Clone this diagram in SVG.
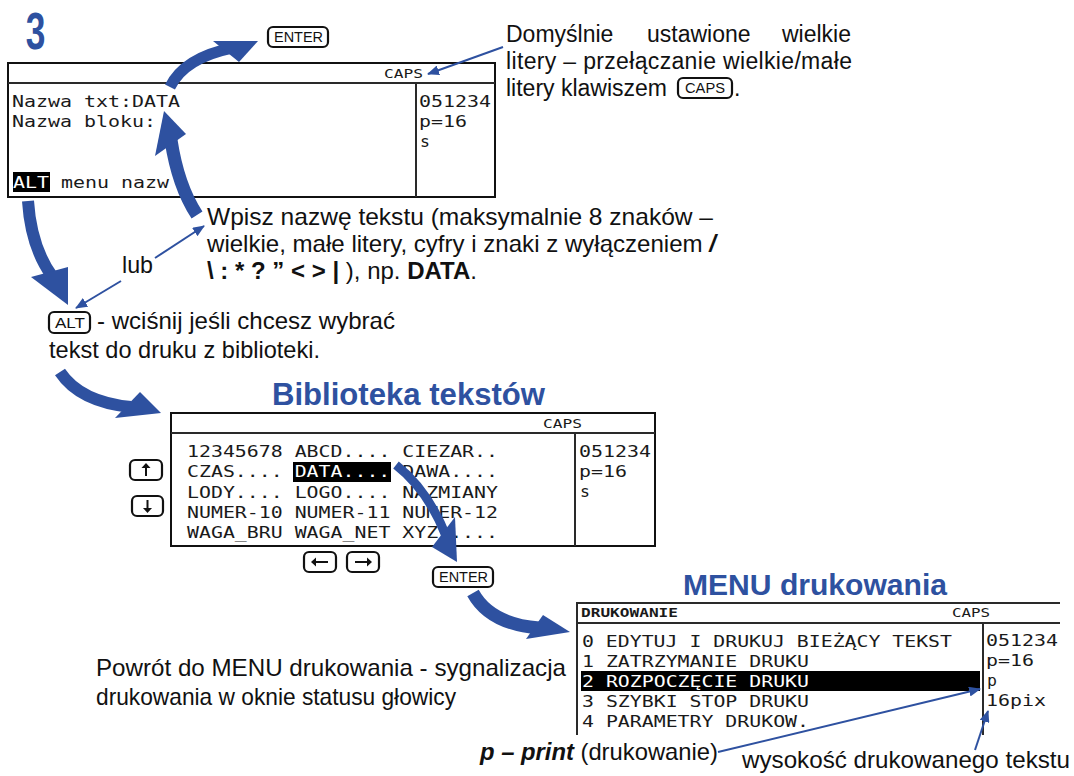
<svg xmlns="http://www.w3.org/2000/svg" width="1074" height="776" viewBox="0 0 1074 776">
<defs>
<style>
.lcd{font-family:"DejaVu Sans Mono","Liberation Mono",monospace;font-size:16.5px;fill:#1a1a1a}
.lcds{font-family:"DejaVu Sans Mono","Liberation Mono",monospace;font-size:13px;fill:#1a1a1a}
.frame{fill:#fff;stroke:#111;stroke-width:2}
.rule{stroke:#2a2a2a;stroke-width:2;fill:none}
.inv{fill:#000}
.txt{font-family:"Liberation Sans",Arial,sans-serif;font-size:23px;fill:#111}
.nar{font-family:"Liberation Sans Narrow","Arial Narrow","Liberation Sans",sans-serif;font-size:24px;fill:#111}
.key rect{fill:#fff;stroke:#111;stroke-width:2.2}
.key path{fill:none;stroke:#111;stroke-width:2}
.key polygon{fill:#111}
.keyt{font-family:"Liberation Sans",Arial,sans-serif;font-size:14px;fill:#111}
.head{font-family:"Liberation Sans",Arial,sans-serif;font-weight:bold;fill:#2e51a0}
.big{fill:none;stroke:#2e51a0}
.tip{fill:#2e51a0}
.thin{fill:none;stroke:#2e51a0;stroke-width:2;marker-end:url(#ah)}
</style>
<marker id="ah" markerUnits="userSpaceOnUse" markerWidth="12" markerHeight="10" refX="11" refY="5" orient="auto">
<path d="M0,0 L12,5 L0,10 z" fill="#2e51a0"/>
</marker>
</defs>

<!-- step number -->
<text id="step" class="head" transform="scale(0.68,1)" x="38" y="49" font-size="52">3</text>

<!-- name entry screen -->
<g id="screen-name">
<rect class="frame" x="8" y="63" width="487" height="134"/>
<line class="rule" x1="8" y1="83" x2="495" y2="83"/>
<line class="rule" x1="416" y1="83" x2="416" y2="197"/>
<text class="lcds" x="384" y="78" textLength="39" lengthAdjust="spacingAndGlyphs">CAPS</text>
<text class="lcd" x="12" y="107" textLength="168" lengthAdjust="spacingAndGlyphs">Nazwa txt:DATA</text>
<text class="lcd" x="12" y="127" textLength="144" lengthAdjust="spacingAndGlyphs">Nazwa bloku:</text>
<rect class="inv" x="13" y="172" width="37" height="20"/>
<text class="lcd" x="13" y="188" textLength="156" lengthAdjust="spacingAndGlyphs"><tspan fill="#fff">ALT</tspan> menu nazw</text>
<text class="lcd" x="419" y="107" textLength="72" lengthAdjust="spacingAndGlyphs">051234</text>
<text class="lcd" x="419" y="127" textLength="48" lengthAdjust="spacingAndGlyphs">p=16</text>
<text class="lcd" x="420" y="147">s</text>
</g>

<!-- text library screen -->
<g id="screen-library">
<text class="head" x="272" y="405" font-size="32" textLength="273" lengthAdjust="spacingAndGlyphs">Biblioteka tekstów</text>
<rect class="frame" x="171" y="413" width="484" height="133"/>
<line class="rule" x1="171" y1="433" x2="655" y2="433"/>
<line class="rule" x1="575" y1="433" x2="575" y2="546"/>
<text class="lcds" x="543" y="428" textLength="39" lengthAdjust="spacingAndGlyphs">CAPS</text>
<text class="lcd" x="187" y="457" textLength="311" lengthAdjust="spacingAndGlyphs">12345678 ABCD.... CIEZAR..</text>
<rect class="inv" x="293" y="462" width="98" height="20"/>
<text class="lcd" x="187" y="477" textLength="311" lengthAdjust="spacingAndGlyphs">CZAS.... <tspan fill="#fff">DATA....</tspan> DAWA....</text>
<text class="lcd" x="187" y="498" textLength="311" lengthAdjust="spacingAndGlyphs">LODY.... LOGO.... NAZMIANY</text>
<text class="lcd" x="187" y="518" textLength="311" lengthAdjust="spacingAndGlyphs">NUMER-10 NUMER-11 NUMER-12</text>
<text class="lcd" x="187" y="538" textLength="311" lengthAdjust="spacingAndGlyphs">WAGA_BRU WAGA_NET XYZ.....</text>
<text class="lcd" x="579" y="457" textLength="72" lengthAdjust="spacingAndGlyphs">051234</text>
<text class="lcd" x="579" y="477" textLength="48" lengthAdjust="spacingAndGlyphs">p=16</text>
<text class="lcd" x="580" y="497">s</text>
</g>

<!-- print menu screen -->
<g id="screen-print">
<text class="head" x="683" y="595" font-size="29" textLength="264" lengthAdjust="spacingAndGlyphs">MENU drukowania</text>
<path class="rule" d="M577,603 H1060 M577,623 H1060 M577,602 V735 M983,623 V735"/>
<text class="lcds" font-weight="bold" x="581" y="617" textLength="97" lengthAdjust="spacingAndGlyphs">DRUKOWANIE</text>
<text class="lcds" x="952" y="617" textLength="38" lengthAdjust="spacingAndGlyphs">CAPS</text>
<text class="lcd" x="582" y="647" textLength="370" lengthAdjust="spacingAndGlyphs">0 EDYTUJ I DRUKUJ BIEŻĄCY TEKST</text>
<text class="lcd" x="582" y="667" textLength="227" lengthAdjust="spacingAndGlyphs">1 ZATRZYMANIE DRUKU</text>
<rect class="inv" x="581" y="671" width="399" height="20"/>
<text class="lcd" x="582" y="687" style="fill:#fff" textLength="227" lengthAdjust="spacingAndGlyphs">2 ROZPOCZĘCIE DRUKU</text>
<text class="lcd" x="582" y="707" textLength="227" lengthAdjust="spacingAndGlyphs">3 SZYBKI STOP DRUKU</text>
<text class="lcd" x="582" y="727" textLength="227" lengthAdjust="spacingAndGlyphs">4 PARAMETRY DRUKOW.</text>
<text class="lcd" x="986" y="646" textLength="72" lengthAdjust="spacingAndGlyphs">051234</text>
<text class="lcd" x="986" y="666" textLength="48" lengthAdjust="spacingAndGlyphs">p=16</text>
<text class="lcd" x="987" y="686">p</text>
<text class="lcd" x="986" y="706" textLength="60" lengthAdjust="spacingAndGlyphs">16pix</text>
</g>

<!-- keys -->
<g id="key-enter-top" class="key">
<rect x="268" y="27" width="60" height="20" rx="5"/>
<text class="keyt" x="274" y="42" textLength="49" lengthAdjust="spacingAndGlyphs">ENTER</text>
</g>
<g id="key-enter-library" class="key">
<rect x="433" y="567" width="60" height="20" rx="5"/>
<text class="keyt" x="439" y="582" textLength="49" lengthAdjust="spacingAndGlyphs">ENTER</text>
</g>
<g id="key-up" class="key">
<rect x="130" y="460" width="32" height="20" rx="5"/>
<path d="M146,476 V467"/><polygon points="141.5,468 146,463 150.5,468"/>
</g>
<g id="key-down" class="key">
<rect x="132" y="496" width="31" height="20" rx="5"/>
<path d="M147.5,500 V509"/><polygon points="143,508 147.5,513 152,508"/>
</g>
<g id="key-left" class="key">
<rect x="304" y="552" width="32" height="20" rx="5"/>
<path d="M328,562 H315"/><polygon points="316,557.5 311,562 316,566.5"/>
</g>
<g id="key-right" class="key">
<rect x="347" y="552" width="32" height="20" rx="5"/>
<path d="M355,562 H368"/><polygon points="367,557.5 372,562 367,566.5"/>
</g>

<!-- caps note -->
<g id="note-caps">
<text class="txt" y="42"><tspan x="506">Domyślnie</tspan><tspan x="647">ustawione</tspan><tspan x="782">wielkie</tspan></text>
<text class="txt" x="506" y="69" textLength="346" lengthAdjust="spacing">litery – przełączanie wielkie/małe</text>
<text class="txt" x="506" y="96">litery klawiszem</text>
<g id="key-caps" class="key">
<rect x="678" y="78" width="54" height="20" rx="5"/>
<text class="keyt" x="685" y="93" textLength="40" lengthAdjust="spacingAndGlyphs">CAPS</text>
</g>
<text class="txt" x="734" y="96">.</text>
</g>

<!-- name rules note -->
<g id="note-name">
<text class="nar" x="207" y="225" textLength="506" lengthAdjust="spacingAndGlyphs">Wpisz nazwę tekstu (maksymalnie 8 znaków –</text>
<text class="nar" x="207" y="252" textLength="509" lengthAdjust="spacingAndGlyphs">wielkie, małe litery, cyfry i znaki z wyłączeniem <tspan font-weight="bold" font-style="italic">/</tspan></text>
<text class="nar" x="207" y="279" textLength="270" lengthAdjust="spacingAndGlyphs"><tspan font-weight="bold">\ : * ? ” &lt; &gt; |</tspan> ), np. <tspan font-weight="bold">DATA</tspan>.</text>
</g>

<text id="note-or" class="nar" x="122" y="273" textLength="31" lengthAdjust="spacingAndGlyphs">lub</text>

<!-- library note -->
<g id="note-alt">
<g id="key-alt" class="key">
<rect x="49" y="312" width="41" height="21" rx="5"/>
<text class="keyt" x="55" y="328" textLength="30" lengthAdjust="spacingAndGlyphs">ALT</text>
</g>
<text class="nar" x="97" y="329" textLength="298" lengthAdjust="spacingAndGlyphs">- wciśnij jeśli chcesz wybrać</text>
<text class="nar" x="49" y="358" textLength="271" lengthAdjust="spacingAndGlyphs">tekst do druku z biblioteki.</text>
</g>

<!-- return note -->
<g id="note-return">
<text class="nar" x="96" y="676" textLength="470" lengthAdjust="spacingAndGlyphs">Powrót do MENU drukowania - sygnalizacja</text>
<text class="nar" x="96" y="705" textLength="360" lengthAdjust="spacingAndGlyphs">drukowania w oknie statusu głowicy</text>
</g>

<text id="note-print" class="nar" x="480" y="760" textLength="238" lengthAdjust="spacingAndGlyphs"><tspan font-weight="bold" font-style="italic">p – print</tspan> (drukowanie)</text>
<text id="note-height" class="nar" x="742" y="768" textLength="328" lengthAdjust="spacingAndGlyphs">wysokość drukowanego tekstu</text>

<!-- connectors -->
<g id="connectors">
<path class="big" stroke-width="11" d="M170,87 Q184,58 232,48"/>
<polygon class="tip" points="213,41 258,41 239,62"/>
<path class="big" stroke-width="13" d="M197,215 Q178,186 171,140"/>
<polygon class="tip" points="164,111 155,156 186,134"/>
<path class="big" stroke-width="12" d="M28,201 Q31,247 52,276"/>
<polygon class="tip" points="31,277 68,267 68,305"/>
<path class="big" stroke-width="12" d="M60,372 Q80,402 131,407"/>
<polygon class="tip" points="140,392 161,413 115,418"/>
<path class="big" stroke-width="9" d="M396,465 Q428,490 446,536"/>
<polygon class="tip" points="432,547 455,517 457,562"/>
<path class="big" stroke-width="13" d="M473,593 Q490,624 539,628"/>
<polygon class="tip" points="543,615 570,632 526,639"/>
<line class="thin" x1="503" y1="47" x2="428" y2="74"/>
<line class="thin" x1="155" y1="258" x2="204" y2="226"/>
<line class="thin" x1="121" y1="281" x2="76" y2="308"/>
<line class="thin" x1="718" y1="752" x2="980" y2="689"/>
<line class="thin" x1="975" y1="750" x2="988" y2="711"/>
</g>
</svg>
